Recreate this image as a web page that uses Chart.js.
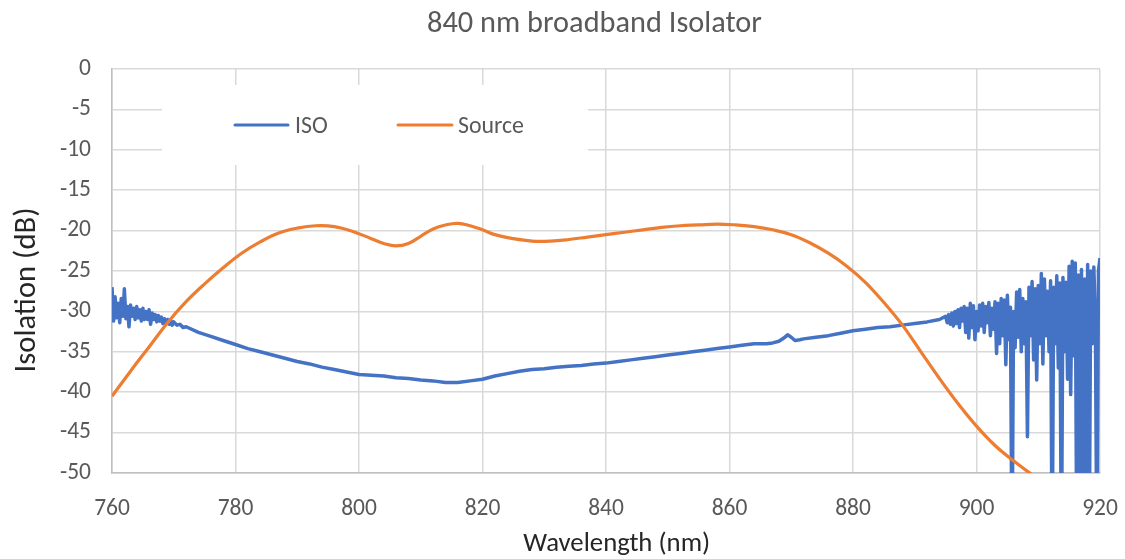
<!DOCTYPE html>
<html><head><meta charset="utf-8">
<script src="https://cdn.jsdelivr.net/npm/chart.js@4.4.1/dist/chart.umd.min.js"></script>
<style>html,body{margin:0;padding:0;background:#fff;}#wrap{width:1125px;height:559px;}</style>
</head><body><div id="wrap"><canvas id="c" width="1125" height="559"></canvas></div>
<script>
// ---------- data ----------
const chartTitle = '840 nm broadband Isolator';
const xAxisTitle = 'Wavelength (nm)';
const yAxisTitle = 'Isolation (dB)';
const seriesNames = ['ISO', 'Source'];
const xTickValues = [760, 780, 800, 820, 840, 860, 880, 900, 920];
const yTickValues = [0, -5, -10, -15, -20, -25, -30, -35, -40, -45, -50];

const isoWavelength = [
  760, 760.25, 760.5, 760.75, 761, 761.25, 761.5, 761.75, 762, 762.25, 762.5, 762.75,
  763, 763.25, 763.5, 763.75, 764, 764.25, 764.5, 764.75, 765, 765.25, 765.5, 765.75,
  766, 766.25, 766.5, 766.75, 767, 767.25, 767.5, 767.75, 768, 768.25, 768.5, 768.75,
  769, 769.25, 769.5, 769.75, 770, 770.5, 771, 771.5,
  772, 774, 776, 778, 780, 782, 784, 786, 788, 790, 792, 794, 796, 798, 800, 802, 804, 806, 808,
  810, 812, 814, 816, 818, 820, 822, 824, 826, 828, 830, 832, 834, 836, 838, 840, 842, 844, 846,
  848, 850, 852, 854, 856, 858, 860, 862, 864, 866, 867, 868, 868.8, 869.4, 870, 870.6, 871.4, 872,
  874, 876, 878, 880, 882, 884, 886, 888, 890, 892, 894,
  895, 895.25, 895.5, 895.75, 896, 896.25, 896.5, 896.75, 897, 897.25, 897.5, 897.75,
  898, 898.25, 898.5, 898.75, 899, 899.25, 899.5, 899.75, 900, 900.25, 900.5, 900.75,
  901, 901.25, 901.5, 901.75, 902, 902.25, 902.5, 902.75, 903, 903.25, 903.5, 903.75,
  904, 904.25, 904.5, 904.75, 905, 905.25, 905.5, 905.75, 906, 906.25, 906.5, 906.75,
  907, 907.25, 907.5, 907.75, 908, 908.25, 908.5, 908.75, 909, 909.25, 909.5, 909.75,
  910, 910.25, 910.5, 910.75, 911, 911.25, 911.5, 911.75, 912, 912.25, 912.5, 912.75,
  913, 913.25, 913.5, 913.75, 914, 914.25, 914.5, 914.75, 915, 915.25, 915.5, 915.75,
  916, 916.25, 916.5, 916.75, 917, 917.25, 917.5, 917.75, 918, 918.25, 918.5, 918.75,
  919, 919.25, 919.5, 919.75, 920
];
const isoValues = [
  -27.0, -31.2, -28.2, -30.8, -29.0, -31.4, -28.4, -30.6, -27.2, -30.9, -29.4, -31.9,
  -29.2, -30.6, -29.6, -31.0, -29.4, -30.8, -29.8, -31.2, -29.6, -31.0, -30.0, -31.0,
  -29.8, -31.6, -30.2, -31.0, -30.4, -31.3, -30.5, -31.2, -30.7, -31.5, -30.9, -31.5,
  -31.0, -31.6, -31.1, -31.7, -31.3, -31.7, -31.6, -32.0,
  -31.9, -32.6, -33.1, -33.6, -34.1, -34.6, -35.0, -35.4, -35.8, -36.2, -36.5, -36.9, -37.2, -37.5, -37.8, -37.9, -38.0, -38.2, -38.3,
  -38.5, -38.6, -38.8, -38.8, -38.6, -38.4, -38.0, -37.7, -37.4, -37.2, -37.1, -36.9, -36.8, -36.7, -36.5, -36.4, -36.2, -36.0, -35.8,
  -35.6, -35.4, -35.2, -35.0, -34.8, -34.6, -34.4, -34.2, -34.0, -34.0, -33.9, -33.7, -33.3, -32.9, -33.2, -33.6, -33.5, -33.4,
  -33.2, -33.0, -32.7, -32.4, -32.2, -32.0, -31.9, -31.7, -31.5, -31.3, -31.0,
  -30.6, -31.4, -30.4, -31.6, -30.2, -31.8, -30.0, -31.5, -29.8, -32.0, -29.6, -31.2,
  -29.4, -32.6, -29.6, -33.3, -29.0, -32.0, -29.3, -33.5, -30.0, -32.4, -29.2, -31.8,
  -29.0, -32.6, -29.4, -31.4, -28.9, -33.0, -29.6, -32.2, -28.8, -35.2, -29.0, -34.0,
  -28.4, -33.0, -28.6, -36.6, -28.0, -33.5, -29.5, -62.0, -30.0, -34.5, -27.6, -33.2,
  -27.3, -35.0, -28.4, -34.0, -28.8, -45.5, -27.0, -33.0, -26.3, -36.0, -27.2, -38.5,
  -26.8, -34.0, -25.3, -36.5, -26.0, -33.0, -27.5, -35.0, -26.2, -62.0, -27.0, -34.0,
  -25.6, -37.0, -26.5, -62.0, -25.8, -35.0, -26.4, -38.4, -24.4, -40.3, -23.8, -35.5,
  -24.0, -62.0, -25.5, -62.0, -24.8, -62.0, -26.0, -62.0, -24.2, -62.0, -25.0, -34.0,
  -24.5, -31.0, -62.0, -25.0, -23.4
];

const sourceWavelength = [
  760, 763, 766, 769, 772, 775, 778, 781, 784, 787, 790, 793, 796, 799, 802, 804, 806, 808,
  810, 812, 814, 816, 818, 820, 822, 825, 828, 831, 834, 837, 840, 843, 846, 849, 852, 855,
  858, 861, 864, 867, 870, 873, 876, 879, 882, 885, 888, 891, 894, 897, 900, 903, 906, 909, 912, 915
];
const sourceValues = [
  -40.5, -37.4, -34.4, -31.4, -28.8, -26.6, -24.6, -22.8, -21.4, -20.3, -19.7, -19.4, -19.5, -20.1, -21.0, -21.6, -21.9, -21.6,
  -20.7, -19.8, -19.3, -19.1, -19.4, -19.9, -20.5, -21.0, -21.3, -21.3, -21.1, -20.8, -20.5, -20.2, -19.9, -19.6, -19.4, -19.3,
  -19.2, -19.3, -19.5, -19.9, -20.5, -21.5, -22.8, -24.4, -26.4, -28.9, -31.7, -35.0, -38.3, -41.4, -44.2, -46.6, -48.5, -50.2, -51.6, -52.7
];

// ---------- styling ----------
const FAMILY = 'Carlito, Lato, "Liberation Sans", sans-serif';
const measure = document.createElement('canvas').getContext('2d');
function fitSize(text, target) {
  measure.font = '100px ' + FAMILY;
  return 100 * target / measure.measureText(text).width;
}
const tickSize = fitSize('780', 35.7);
const titleSize = fitSize(chartTitle, 335);
const xTitleSize = fitSize(xAxisTitle, 187);
const yTitleSize = fitSize(yAxisTitle, 165);
const legendSize = fitSize('Source', 66);

const decor = {
  id: 'decor',
  beforeDatasetsDraw(chart) {
    const ctx = chart.ctx;
    ctx.save();
    ctx.fillStyle = '#ffffff';
    ctx.fillRect(162, 85, 426, 80);
    const items = [
      {name: seriesNames[0], color: '#4472C4', x0: 235, x1: 288, tx: 295},
      {name: seriesNames[1], color: '#ED7D31', x0: 398, x1: 452, tx: 458}
    ];
    ctx.lineWidth = 3;
    ctx.lineCap = 'round';
    ctx.font = legendSize + 'px ' + FAMILY;
    ctx.textBaseline = 'alphabetic';
    ctx.textAlign = 'left';
    for (const it of items) {
      ctx.strokeStyle = it.color;
      ctx.beginPath(); ctx.moveTo(it.x0, 125); ctx.lineTo(it.x1, 125); ctx.stroke();
      ctx.fillStyle = '#595959';
      ctx.fillText(it.name, it.tx, 132.5);
    }
    ctx.restore();
  },
  afterDraw(chart) {
    const ctx = chart.ctx;
    ctx.save();
    ctx.textAlign = 'center';
    ctx.textBaseline = 'alphabetic';
    ctx.fillStyle = '#595959';
    ctx.font = titleSize + 'px ' + FAMILY;
    ctx.fillText(chartTitle, 594.5, 32);
    ctx.fillStyle = '#262626';
    ctx.font = xTitleSize + 'px ' + FAMILY;
    ctx.fillText(xAxisTitle, 616.7, 551);
    ctx.translate(35, 290);
    ctx.rotate(-Math.PI / 2);
    ctx.font = yTitleSize + 'px ' + FAMILY;
    ctx.fillText(yAxisTitle, 0, 0);
    ctx.restore();
  }
};

const toPoints = (xs, ys) => xs.map((x, i) => ({x: x, y: ys[i]}));

new Chart(document.getElementById('c'), {
  type: 'line',
  data: {
    datasets: [
      {label: seriesNames[0], data: toPoints(isoWavelength, isoValues), borderColor: '#4472C4',
       borderWidth: 3.5, pointRadius: 0, tension: 0, borderJoinStyle: 'round', order: 2},
      {label: seriesNames[1], data: toPoints(sourceWavelength, sourceValues), borderColor: '#ED7D31',
       borderWidth: 3.2, pointRadius: 0, tension: 0.4, order: 1}
    ]
  },
  plugins: [decor],
  options: {
    responsive: false,
    animation: false,
    events: [],
    layout: {padding: {left: 0, right: 25, top: 69, bottom: 0}},
    plugins: {legend: {display: false}, title: {display: false}, tooltip: {enabled: false}},
    scales: {
      x: {
        type: 'linear', min: 760, max: 920,
        afterBuildTicks: s => { s.ticks = xTickValues.map(v => ({value: v})); },
        afterFit: s => { s.height = 86; s.paddingLeft = 0; s.paddingRight = 0; },
        grid: {color: '#d9d9d9', lineWidth: 1.5, drawTicks: false},
        border: {color: '#bfbfbf', width: 1.5},
        ticks: {font: {family: FAMILY, size: tickSize}, color: '#595959', padding: 22, maxRotation: 0, autoSkip: false}
      },
      y: {
        type: 'linear', min: -50, max: 0,
        afterBuildTicks: s => { s.ticks = yTickValues.map(v => ({value: v})); },
        afterFit: s => { s.width = 112; s.paddingTop = 0; s.paddingBottom = 0; },
        grid: {color: '#d9d9d9', lineWidth: 1.5, drawTicks: false},
        border: {color: '#bfbfbf', width: 1.5},
        ticks: {font: {family: FAMILY, size: tickSize}, color: '#595959', padding: 21, autoSkip: false}
      }
    }
  }
});
</script>
</body></html>
